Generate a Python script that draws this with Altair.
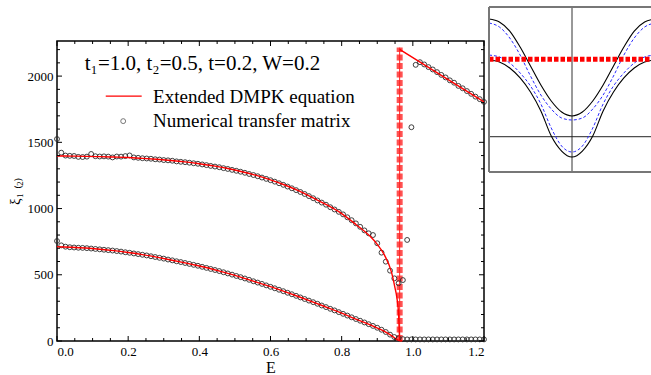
import altair as alt
import pandas as pd

SERIF = "Liberation Serif"

# ---------------- main plot data ----------------
E_grid = [0.000, 0.012, 0.024, 0.036, 0.048, 0.060, 0.072, 0.084, 0.096, 0.108,
          0.120, 0.132, 0.144, 0.156, 0.168, 0.180, 0.192, 0.204, 0.216, 0.228,
          0.240, 0.252, 0.264, 0.276, 0.288, 0.300, 0.312, 0.324, 0.336, 0.348,
          0.360, 0.372, 0.384, 0.396, 0.408, 0.420, 0.432, 0.444, 0.456, 0.468,
          0.480, 0.492, 0.504, 0.516, 0.528, 0.540, 0.552, 0.564, 0.576, 0.588,
          0.600, 0.612, 0.624, 0.636, 0.648, 0.660, 0.672, 0.684, 0.696, 0.708,
          0.720, 0.732, 0.744, 0.756, 0.768, 0.780, 0.792, 0.804, 0.816, 0.828,
          0.840, 0.852, 0.864, 0.876, 0.888, 0.900, 0.912, 0.924, 0.936, 0.948,
          0.960, 0.972, 0.984, 0.996, 1.008, 1.020, 1.032, 1.044, 1.056, 1.068,
          1.080, 1.092, 1.104, 1.116, 1.128, 1.140, 1.152, 1.164, 1.176, 1.188,
          1.200]

xi_num_upper = [1525, 1422, 1400, 1398, 1397, 1390, 1389, 1392, 1412, 1395,
                1393, 1394, 1392, 1386, 1393, 1392, 1396, 1401, 1386, 1383,
                1380, 1378, 1376, 1372, 1370, 1366, 1364, 1361, 1356, 1353,
                1350, 1346, 1342, 1338, 1333, 1328, 1322, 1317, 1312, 1305,
                1299, 1292, 1285, 1278, 1270, 1261, 1253, 1244, 1234, 1224,
                1214, 1203, 1191, 1179, 1166, 1153, 1139, 1125, 1110, 1094,
                1078, 1061, 1045, 1029, 1010, 993, 975, 956, 934, 912,
                888, 862, 835, 813, 800, 738, 667, 599, 531, 473,
                436, 460, 763, 1614, 2085, 2105, 2088, 2068, 2050, 2030,
                2009, 1990, 1968, 1950, 1926, 1908, 1887, 1866, 1845, 1826,
                1805]

xi_num_lower = [755, 722, 712, 708, 706, 704, 703, 701, 698, 695,
                692, 689, 686, 683, 679, 675, 670, 666, 661, 656,
                651, 646, 640, 634, 628, 622, 615, 609, 602, 596,
                589, 582, 575, 568, 560, 552, 544, 536, 528, 519,
                510, 501, 491, 482, 472, 462, 451, 441, 431, 420,
                409, 398, 387, 376, 364, 353, 341, 329, 317, 305,
                293, 281, 268, 256, 243, 231, 218, 205, 192, 179,
                166, 153, 140, 127, 114, 100, 85, 68, 48, 30,
                20, 14, 12, 12, 12, 12, 12, 12, 12, 12,
                12, 12, 12, 12, 12, 12, 12, 12, 12, 12,
                12]

E_dmpk_upper = [0.0, 0.04, 0.08, 0.12, 0.16, 0.20, 0.24, 0.28, 0.32, 0.36,
                0.40, 0.44, 0.48, 0.52, 0.56, 0.60, 0.64, 0.68, 0.72, 0.76,
                0.80, 0.84, 0.88, 0.90, 0.92, 0.94, 0.95, 0.955, 0.96, 0.963]
xi_dmpk_upper = [1397, 1396, 1394, 1392, 1389, 1385, 1379, 1372, 1363, 1352,
                 1338, 1322, 1302, 1278, 1250, 1217, 1178, 1133, 1080, 1025,
                 962, 880, 790, 730, 650, 520, 400, 330, 200, 0]

E_dmpk_upper_hi = [0.963, 1.08, 1.2]
xi_dmpk_upper_hi = [2202, 2005, 1805]

E_dmpk_lower = [0.0, 0.04, 0.08, 0.12, 0.16, 0.20, 0.24, 0.28, 0.32, 0.36,
                0.40, 0.44, 0.48, 0.52, 0.56, 0.60, 0.64, 0.68, 0.72, 0.76,
                0.80, 0.84, 0.88, 0.92, 0.94, 0.96, 0.97]
xi_dmpk_lower = [712, 708, 702, 693, 682, 668, 652, 633, 612, 590,
                 566, 540, 511, 479, 445, 410, 373, 334, 294, 252,
                 210, 165, 122, 72, 40, 5, 0]

E_transition = [0.963]
xi_transition = [0, 2215]

x_major = [0.0, 0.2, 0.4, 0.6, 0.8, 1.0, 1.2]
x_minor = [0.05, 0.1, 0.15, 0.25, 0.3, 0.35, 0.45, 0.5, 0.55, 0.65, 0.7, 0.75,
           0.85, 0.9, 0.95, 1.05, 1.1, 1.15]
y_major = [0, 500, 1000, 1500, 2000]
y_minor = [100, 200, 300, 400, 600, 700, 800, 900, 1100, 1200, 1300, 1400,
           1600, 1700, 1800, 1900, 2100, 2200]

param_text = "t₁=1.0, t₂=0.5, t=0.2, W=0.2"
legend_labels = ["Extended DMPK equation", "Numerical transfer matrix"]

# ---------------- inset data (band structure) ----------------
k_over_pi = [-1.0, -0.875, -0.75, -0.625, -0.5, -0.375, -0.25, -0.125, 0.0,
             0.125, 0.25, 0.375, 0.5, 0.625, 0.75, 0.875, 1.0]
band_black_upper = [1.464, 1.427, 1.315, 1.116, 0.880, 0.643, 0.444, 0.307, 0.258,
                    0.307, 0.444, 0.643, 0.880, 1.116, 1.315, 1.427, 1.464]
band_blue_upper = [1.415, 1.365, 1.228, 1.016, 0.755, 0.519, 0.345, 0.233, 0.208,
                   0.233, 0.345, 0.519, 0.755, 1.016, 1.228, 1.365, 1.415]
band_blue_lower = [1.016, 0.992, 0.917, 0.793, 0.631, 0.407, 0.108, -0.116, -0.190,
                   -0.116, 0.108, 0.407, 0.631, 0.793, 0.917, 0.992, 1.016]
band_black_lower = [0.954, 0.929, 0.855, 0.731, 0.556, 0.320, 0.009, -0.178, -0.253,
                    -0.178, 0.009, 0.320, 0.556, 0.731, 0.855, 0.929, 0.954]
inset_fermi = 0.963
inset_E_range = [-0.439, 1.614]
inset_k_range = [-1.0, 1.0]

# ---------------- scales / axes ----------------
W, H = 427, 300
x_scale = alt.Scale(domain=[0, 1.2], nice=False, zero=False)
y_scale = alt.Scale(domain=[0, 2265], nice=False, zero=False)
x_axis = alt.Axis(values=x_major, format=".1f", ticks=False, domain=False, grid=False,
                  labelFont=SERIF, labelFontSize=13, labelColor="black", labelPadding=4,
                  title="E", titleFont=SERIF, titleFontSize=16, titleFontWeight="normal",
                  titleColor="black", titlePadding=1)
y_axis = alt.Axis(values=y_major, format="d", ticks=False, domain=False, grid=False,
                  labelFont=SERIF, labelFontSize=13, labelColor="black", labelPadding=4,
                  title="ξ₁ ₍₂₎", titleFont=SERIF, titleFontSize=15, titleFontWeight="normal",
                  titleColor="black", titlePadding=5)


def mx(f):
    return alt.X(f"{f}:Q", scale=x_scale, axis=x_axis)


def my(f):
    return alt.Y(f"{f}:Q", scale=y_scale, axis=y_axis)


df_num = pd.DataFrame({
    "E": E_grid * 2,
    "xi": xi_num_upper + xi_num_lower,
    "s": ["u"] * len(E_grid) + ["l"] * len(E_grid),
})
df_up = pd.DataFrame({"E": E_dmpk_upper, "xi": xi_dmpk_upper})
df_up_hi = pd.DataFrame({"E": E_dmpk_upper_hi, "xi": xi_dmpk_upper_hi})
df_lo = pd.DataFrame({"E": E_dmpk_lower, "xi": xi_dmpk_lower})
df_tr = pd.DataFrame({"E": E_transition, "xi": [xi_transition[0]], "xi2": [xi_transition[1]]})

transition_thick = alt.Chart(df_tr).mark_rule(
    color="#ff5252", strokeWidth=6, strokeDash=[6, 2.5]
).encode(x=mx("E"), y=my("xi"), y2="xi2:Q")
transition_thin = alt.Chart(df_tr).mark_rule(
    color="#ff2020", strokeWidth=1
).encode(x=mx("E"), y=my("xi"), y2="xi2:Q")

circles = alt.Chart(df_num).mark_point(
    shape="circle", filled=False, size=24, strokeWidth=0.9, color="#2a2a2a", opacity=1
).encode(x=mx("E"), y=my("xi"), detail="s:N")

line_style = dict(color="#ff0000", strokeWidth=1.4, interpolate="monotone")
red_up = alt.Chart(df_up).mark_line(**line_style).encode(x=mx("E"), y=my("xi"))
red_up_hi = alt.Chart(df_up_hi).mark_line(**line_style).encode(x=mx("E"), y=my("xi"))
red_lo = alt.Chart(df_lo).mark_line(**line_style).encode(x=mx("E"), y=my("xi"))


# inward frame ticks
def ytick(vals, length, side):
    d = pd.DataFrame({"v": vals})
    if side == "left":
        xx, xx2 = alt.value(0), alt.value(length)
    else:
        xx, xx2 = alt.value(W), alt.value(W - length)
    return alt.Chart(d).mark_rule(color="black", strokeWidth=1).encode(
        y=my("v"), x=xx, x2=xx2)


def xtick(vals, length, side):
    d = pd.DataFrame({"v": vals})
    if side == "bottom":
        yy, yy2 = alt.value(H), alt.value(H - length)
    else:
        yy, yy2 = alt.value(0), alt.value(length)
    return alt.Chart(d).mark_rule(color="black", strokeWidth=1).encode(
        x=mx("v"), y=yy, y2=yy2)


ticks = [ytick(y_major, 5, "left"), ytick(y_minor, 3, "left"),
         ytick(y_major, 5, "right"), ytick(y_minor, 3, "right"),
         xtick(x_major, 5, "bottom"), xtick(x_minor, 3, "bottom"),
         xtick(x_major, 5, "top"), xtick(x_minor, 3, "top")]

# annotation text and hand-made legend
df_param = pd.DataFrame({"E": [0.078], "xi": [2090], "label": [param_text]})
param = alt.Chart(df_param).mark_text(
    align="left", baseline="middle", font=SERIF, fontSize=21, color="black"
).encode(x=mx("E"), y=my("xi"), text="label:N")

df_leg_text = pd.DataFrame({"E": [0.27, 0.27], "xi": [1843, 1658], "label": legend_labels})
leg_text = alt.Chart(df_leg_text).mark_text(
    align="left", baseline="middle", font=SERIF, fontSize=19, color="black"
).encode(x=mx("E"), y=my("xi"), text="label:N")

df_leg_line = pd.DataFrame({"E": [0.137], "E2": [0.238], "xi": [1849]})
leg_line = alt.Chart(df_leg_line).mark_rule(color="#ff0000", strokeWidth=1.4).encode(
    x=mx("E"), x2="E2:Q", y=my("xi"))
df_leg_pt = pd.DataFrame({"E": [0.186], "xi": [1660]})
leg_pt = alt.Chart(df_leg_pt).mark_point(
    shape="circle", filled=False, size=24, strokeWidth=0.9, color="#2a2a2a"
).encode(x=mx("E"), y=my("xi"))

main = alt.layer(transition_thick, transition_thin, circles, red_up, red_up_hi, red_lo,
                 *ticks, param, leg_line, leg_pt, leg_text)

# ---------------- inset ----------------
ix_scale = alt.Scale(domain=inset_k_range, range=[432, 598], nice=False, zero=False)
iy_scale = alt.Scale(domain=inset_E_range, range=[131, -34], nice=False, zero=False)


def ix(f):
    return alt.X(f"{f}:Q", scale=ix_scale, axis=None)


def iy(f):
    return alt.Y(f"{f}:Q", scale=iy_scale, axis=None)


n = len(k_over_pi)
df_bands = pd.DataFrame({
    "k": k_over_pi * 4,
    "e": band_black_upper + band_black_lower + band_blue_upper + band_blue_lower,
    "b": ["bu"] * n + ["bl"] * n + ["cu"] * n + ["cl"] * n,
})
black_bands = alt.Chart(df_bands).transform_filter(
    "datum.b == 'bu' || datum.b == 'bl'"
).mark_line(color="black", strokeWidth=1.1, interpolate="monotone").encode(
    x=ix("k"), y=iy("e"), detail="b:N")
blue_bands = alt.Chart(df_bands).transform_filter(
    "datum.b == 'cu' || datum.b == 'cl'"
).mark_line(color="#2a2aff", strokeWidth=1, strokeDash=[3, 2], interpolate="monotone").encode(
    x=ix("k"), y=iy("e"), detail="b:N")

df_fermi = pd.DataFrame({"k": [inset_k_range[0]], "k2": [inset_k_range[1]], "e": [inset_fermi]})
fermi = alt.Chart(df_fermi).mark_rule(color="#ff0000", strokeWidth=5, strokeDash=[4.5, 2]).encode(
    x=ix("k"), x2="k2:Q", y=iy("e"))

df_vaxis = pd.DataFrame({"k": [0.0], "e": [inset_E_range[0]], "e2": [inset_E_range[1]]})
vaxis = alt.Chart(df_vaxis).mark_rule(color="#333333", strokeWidth=1).encode(
    x=ix("k"), y=iy("e"), y2="e2:Q")
df_haxis = pd.DataFrame({"k": [inset_k_range[0]], "k2": [inset_k_range[1]], "e": [0.0]})
haxis = alt.Chart(df_haxis).mark_rule(color="#222222", strokeWidth=1).encode(
    x=ix("k"), x2="k2:Q", y=iy("e"))

df_frame_v = pd.DataFrame({"k": [inset_k_range[0]], "e": [inset_E_range[0]], "e2": [inset_E_range[1]]})
frame_left = alt.Chart(df_frame_v).mark_rule(color="#777777", strokeWidth=2).encode(
    x=ix("k"), y=iy("e"), y2="e2:Q")
df_frame_h = pd.DataFrame({"k": [inset_k_range[0]] * 2, "k2": [inset_k_range[1]] * 2,
                           "e": inset_E_range})
frame_h = alt.Chart(df_frame_h).mark_rule(color="#777777", strokeWidth=2).encode(
    x=ix("k"), x2="k2:Q", y=iy("e"))

inset = alt.layer(vaxis, haxis, black_bands, blue_bands, fermi, frame_left, frame_h)

chart = alt.layer(main, inset).resolve_scale(
    x="independent", y="independent"
).properties(
    width=W, height=H,
    padding={"left": 57, "top": 41, "right": 167, "bottom": 34},
    autosize=alt.AutoSizeParams(type="none"),
    background="white",
).configure_view(
    stroke="black", strokeWidth=1.5
).configure_axis(
    labelFont=SERIF, titleFont=SERIF, labelColor="black", titleColor="black",
    titleFontWeight="normal"
)

chart.save("out.html", embed_options={"renderer": "svg", "actions": False})
